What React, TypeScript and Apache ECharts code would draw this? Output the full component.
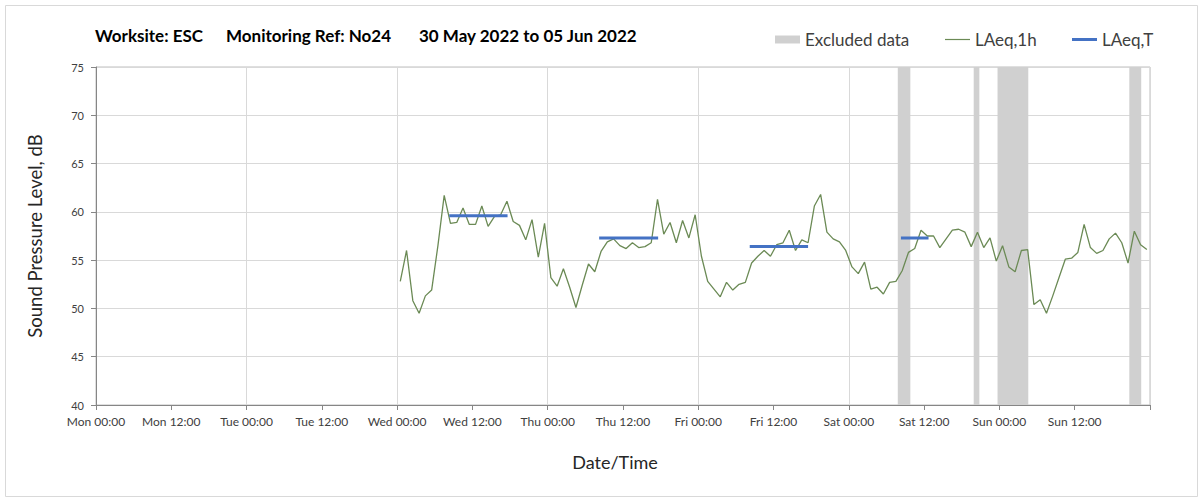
import React, { useEffect, useRef } from "react";
import * as echarts from "echarts";

// Hours since Mon 00:00 for the first LAeq,1h reading; readings are hourly
const laeq1hStartHour = 48.5;
const laeq1h = [
  52.8, 56.0, 50.8, 49.5, 51.3, 51.9, 56.5, 61.7, 58.8, 58.9,
  60.4, 58.7, 58.7, 60.6, 58.5, 59.5, 59.7, 61.1, 59.0, 58.6,
  57.1, 59.2, 55.3, 58.8, 53.2, 52.3, 54.1, 52.2, 50.1, 52.4,
  54.6, 53.8, 55.9, 56.9, 57.2, 56.5, 56.2, 56.8, 56.3, 56.4,
  56.8, 61.3, 57.7, 58.9, 56.8, 59.1, 57.3, 59.7, 55.4, 52.8,
  52.0, 51.2, 52.7, 51.9, 52.5, 52.7, 54.7, 55.4, 56.0, 55.4,
  56.6, 56.8, 58.1, 56.0, 57.1, 56.8, 60.6, 61.8, 57.9, 57.2,
  56.9, 56.0, 54.3, 53.6, 54.8, 52.0, 52.2, 51.5, 52.7, 52.8,
  53.9, 55.8, 56.2, 58.1, 57.5, 57.5, 56.3, 57.2, 58.1, 58.2,
  57.9, 56.4, 57.9, 56.3, 57.3, 54.9, 56.5, 54.3, 53.8, 56.0,
  56.1, 50.4, 50.9, 49.5, 51.3, 53.2, 55.1, 55.2, 55.8, 58.7,
  56.3, 55.7, 56.0, 57.2, 57.8, 56.8, 54.7, 58.0, 56.6, 56.1,
];

// LAeq,T periods (hours since Mon 00:00) and levels
const laeqTStart = [56.3, 80.2, 104.2, 128.3];
const laeqTEnd = [65.6, 89.6, 113.5, 132.7];
const laeqTValue = [59.6, 57.3, 56.4, 57.3];

// Excluded data periods (hours since Mon 00:00)
const excludedStart = [127.8, 139.9, 143.7, 164.7];
const excludedEnd = [129.8, 140.8, 148.6, 166.6];

const xTickLabels = [
  "Mon 00:00", "Mon 12:00", "Tue 00:00", "Tue 12:00", "Wed 00:00", "Wed 12:00",
  "Thu 00:00", "Thu 12:00", "Fri 00:00", "Fri 12:00", "Sat 00:00", "Sat 12:00",
  "Sun 00:00", "Sun 12:00", "",
];

const titleParts = ["Worksite: ESC", "Monitoring Ref: No24", "30 May 2022 to 05 Jun 2022"];
const legendNames = ["Excluded data", "LAeq,1h", "LAeq,T"];

const FONT = "Lato, 'Open Sans', sans-serif";
const GREEN = "#6b8a55";
const BLUE = "#4472c4";
const GREY = "#d0d0d0";

export default function App() {
  const ref = useRef<HTMLDivElement>(null);
  useEffect(() => {
    if (!ref.current) return;
    const chart = echarts.init(ref.current, undefined, { renderer: "svg" });
    const lineData = laeq1h.map((v, i) => [laeq1hStartHour + i, v]);
    const tSeries = laeqTStart.map((s, i) => ({
      name: legendNames[2],
      type: "line",
      symbol: "none",
      z: 4,
      color: BLUE,
      lineStyle: { color: BLUE, width: 3 },
      data: [
        [s, laeqTValue[i]],
        [laeqTEnd[i], laeqTValue[i]],
      ],
    }));
    const titleLefts = [95, 226, 419];
    const legendLefts = [775, 945, 1072];
    const legendIcons = [
      "rect",
      "path://M0,0H25V1.2H0Z",
      "path://M0,0H25V3H0Z",
    ];
    const option: any = {
      animation: false,
      backgroundColor: "#ffffff",
      textStyle: { fontFamily: FONT },
      title: titleParts.map((t, i) => ({
        text: t,
        left: titleLefts[i],
        top: 27,
        padding: 0,
        textStyle: { fontFamily: FONT, fontSize: 17, fontWeight: "bold", color: "#000" },
      })),
      legend: legendNames.map((n, i) => ({
        left: legendLefts[i],
        top: 31,
        padding: 0,
        itemWidth: 25,
        itemHeight: 8,
        textStyle: { fontFamily: FONT, fontSize: 17, color: "#404040" },
        data: [{ name: n, icon: legendIcons[i] }],
      })),
      grid: {
        left: 96,
        right: 53,
        top: 67,
        bottom: 95,
        show: true,
        borderColor: "#bfbfbf",
        borderWidth: 1,
      },
      xAxis: [
        {
          type: "value",
          min: 0,
          max: 168,
          interval: 12,
          name: "Date/Time",
          nameLocation: "middle",
          nameGap: 48,
          nameTextStyle: { fontFamily: FONT, fontSize: 18, color: "#262626", padding: [0, 16, 0, 0] },
          axisLine: { show: true, lineStyle: { color: "#868686" } },
          axisTick: { show: true, length: 5, lineStyle: { color: "#868686" } },
          axisLabel: {
            fontFamily: FONT,
            fontSize: 12,
            color: "#404040",
            margin: 10,
            formatter: (v: number) => xTickLabels[Math.round(v / 12)] ?? "",
          },
          splitLine: { show: false },
        },
        {
          type: "value",
          min: 0,
          max: 168,
          interval: 24,
          position: "bottom",
          axisLine: { show: false },
          axisTick: { show: false },
          axisLabel: { show: false },
          splitLine: { show: true, lineStyle: { color: "#d9d9d9" } },
        },
      ],
      yAxis: {
        type: "value",
        min: 40,
        max: 75,
        interval: 5,
        name: "Sound Pressure Level, dB",
        nameLocation: "middle",
        nameGap: 52,
        nameTextStyle: { fontFamily: FONT, fontSize: 18.5, color: "#262626" },
        axisLine: { show: true, lineStyle: { color: "#868686" } },
        axisTick: { show: true, length: 5, lineStyle: { color: "#868686" } },
        axisLabel: { fontFamily: FONT, fontSize: 11, color: "#404040", margin: 12 },
        splitLine: { show: true, lineStyle: { color: "#d9d9d9" } },
      },
      graphic: [
        {
          type: "rect",
          silent: true,
          z: -10,
          shape: { x: 5.5, y: 5.5, width: 1192, height: 491 },
          style: { fill: "none", stroke: "#d9d9d9", lineWidth: 1 },
        },
      ],
      series: [
        {
          name: legendNames[0],
          type: "line",
          data: [],
          z: 1,
          color: GREY,
          itemStyle: { color: GREY },
          markArea: {
            silent: true,
            itemStyle: { color: GREY },
            data: excludedStart.map((s, i) => [{ xAxis: s }, { xAxis: excludedEnd[i] }]),
          },
        },
        {
          name: legendNames[1],
          type: "line",
          symbol: "none",
          z: 3,
          color: GREEN,
          lineStyle: { color: GREEN, width: 1.3 },
          data: lineData,
        },
        ...tSeries,
      ],
    };
    chart.setOption(option);
    return () => chart.dispose();
  }, []);
  return (
    <div
      ref={ref}
      style={{ position: "absolute", left: 0, top: 0, width: 1203, height: 500 }}
    />
  );
}
